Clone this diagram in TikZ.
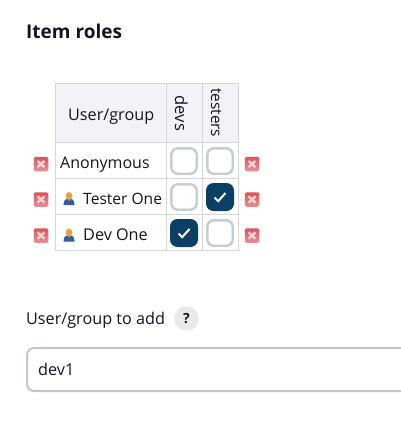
\documentclass[tikz,border=0pt]{standalone}
\usepackage{fontspec}
\setmainfont{Open Sans}
\usetikzlibrary{calc}
\definecolor{ink}{HTML}{14141F}
\definecolor{gridc}{HTML}{D6D6D6}
\definecolor{headbg}{HTML}{F3F3F7}
\definecolor{boxc}{HTML}{C5CDD2}
\definecolor{navy}{HTML}{0A3F66}
\definecolor{inputc}{HTML}{BEC8C8}
\definecolor{helpbg}{HTML}{E9E9EC}
\definecolor{xtop}{HTML}{E36A70}
\definecolor{xbot}{HTML}{D8555C}
\definecolor{personblue}{HTML}{2F5F9E}
\definecolor{personskin}{HTML}{E5A23C}
\tikzset{
  x=1pt,y=-1pt,
  txt/.style={inner sep=0pt,text=ink,font=\fontsize{16.2}{18}\selectfont,anchor=base west},
  cellbox/.style={draw=boxc,line width=2.4pt,fill=white,rounded corners=6.5pt,minimum size=25.4pt,inner sep=0pt},
  cellon/.style={fill=navy,rounded corners=7.5pt,minimum size=28pt,inner sep=0pt},
  rowline/.style={draw=gridc,line width=0.8pt},
  removebox/.style={top color=xbot,bottom color=xtop!75!white,rounded corners=1.5pt,minimum size=14.5pt,inner sep=0pt},
}
\newcommand{\removex}[2]{%
  \node[removebox] (#1) at #2 {};
  \draw[white,opacity=.7,line width=2.4pt] ($(#1)+(-3.5,-3.2)$) -- ($(#1)+(3.5,3.2)$) ($(#1)+(-3.5,3.2)$) -- ($(#1)+(3.5,-3.2)$);
}
\newcommand{\usericon}[1]{%
  \fill[personblue] ($#1+(-5.5,6.5)$) .. controls ($#1+(-5.5,0.5)$) and ($#1+(-2,0)$) .. ($#1+(0,0)$) .. controls ($#1+(2,0)$) and ($#1+(5.5,0.5)$) .. ($#1+(5.5,6.5)$) -- cycle;
  \fill[personskin] ($#1+(0,-2.5)$) ellipse (3.3pt and 3.9pt);
  \fill[personskin] ($#1+(-1.2,0)$) -- ($#1+(1.2,0)$) -- ($#1+(0,3)$) -- cycle;
}
\newcommand{\tickmark}[1]{%
  \draw[white,line width=2pt] ($#1+(-5.5,0.5)$) -- ($#1+(-1.8,4.2)$) -- ($#1+(5.5,-4)$);
}
\begin{document}
\begin{tikzpicture}
\useasboundingbox (0,0) rectangle (401,428);
\fill[white] (0,0) rectangle (401,428);
\node[txt,font=\fontsize{19}{22}\selectfont\bfseries] (title) at (26,38) {Item roles};

% table
\fill[headbg] (55.5,83.5) rectangle (238.5,142.5);
\draw[rowline] (55.5,83.5) rectangle (238.5,250.5);
\draw[rowline] (55.5,142.5) -- (238.5,142.5) (55.5,178.5) -- (238.5,178.5) (55.5,214.5) -- (238.5,214.5);
\draw[rowline] (166.5,83.5) -- (166.5,250.5) (202.5,83.5) -- (202.5,250.5);

\node[txt] (ug) at (68,120) {User/group};
\node[txt,rotate=-90,font=\fontsize{16.6}{18}\selectfont] (devs) at (175,95.5) {devs};
\node[txt,rotate=-90,font=\fontsize{15.4}{18}\selectfont] (testers) at (211,88) {testers};
\node[txt,font=\fontsize{16}{18}\selectfont] (anon) at (60,168) {Anonymous};
\node[txt,font=\fontsize{15.6}{18}\selectfont] (tester) at (83,204) {Tester One};
\node[txt] (dev) at (83,240) {Dev One};

\usericon{(69,198.5)}
\usericon{(69,235)}

\node[cellbox] (a1) at (184,161) {};
\node[cellbox] (a2) at (220,161) {};
\node[cellbox] (b1) at (184,197) {};
\node[cellon] (b2) at (220,197) {};
\node[cellon] (c1) at (184,233) {};
\node[cellbox] (c2) at (220,233) {};
\tickmark{(b2)}
\tickmark{(c1)}

\removex{r1}{(41,164)}
\removex{r2}{(41,199.5)}
\removex{r3}{(41,235.5)}
\removex{s1}{(252,164)}
\removex{s2}{(252,199.5)}
\removex{s3}{(252,235.5)}

\node[txt] (lab) at (26,324) {User/group to add};
\node[circle,fill=helpbg,minimum size=24.5pt,inner sep=0pt,text=ink,font=\fontsize{14}{14}\selectfont\bfseries] (help) at (186.5,318.5) {?};

\draw[inputc,line width=2pt,rounded corners=7pt] (420,348) -- (27,348) -- (27,391) -- (420,391);
\node[txt] (val) at (38,375) {dev1};
\end{tikzpicture}
\end{document}
